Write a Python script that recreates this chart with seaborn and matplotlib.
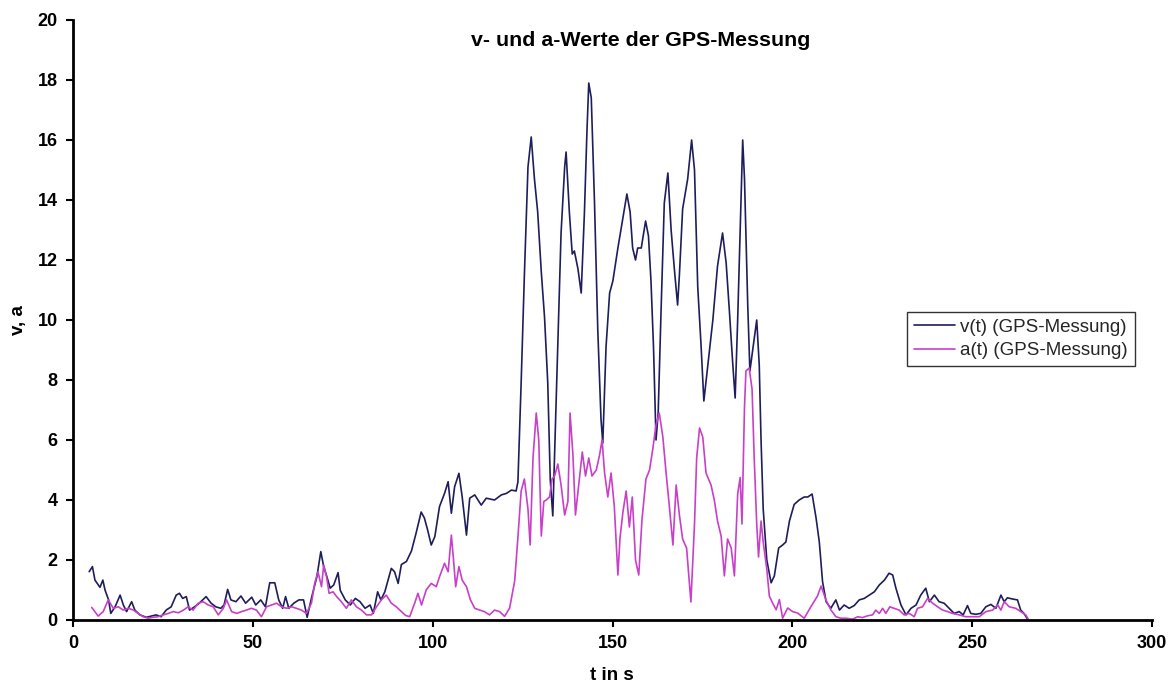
import numpy as np
import pandas as pd
import matplotlib
matplotlib.use("Agg")
import matplotlib.pyplot as plt
import seaborn as sns

# ---- data ----
t_v = [4.5, 5.4, 6.1, 7.5, 8.3, 8.9, 9.9, 10.5, 11.7, 13.1, 14.0, 14.9, 16.3, 17.2, 18.6, 20.4,
       21.8, 23.1, 24.5, 25.9, 27.3, 28.7, 29.6, 30.5, 31.5, 32.4, 33.8, 35.1, 37.0, 38.4, 39.7,
       41.1, 42.0, 43.0, 43.9, 45.3, 46.7, 48.0, 49.7, 50.8, 52.2, 53.5, 54.7, 56.1, 57.2, 58.3,
       59.1, 60.0, 61.4, 62.8, 64.1, 65.1, 66.4, 67.8, 68.9, 69.7, 70.6, 71.5, 72.5, 73.7, 74.3,
       75.7, 77.1, 78.5, 79.8, 81.2, 82.6, 83.5, 84.7, 85.6, 86.7, 87.6, 88.5, 89.4, 90.4, 91.3,
       92.7, 94.1, 95.4, 96.8, 97.7, 98.6, 99.6, 100.6, 101.9, 103.3, 104.3, 105.2, 106.1, 107.3,
       108.2, 109.4, 110.3, 111.7, 113.5, 114.9, 117.2, 119.1, 120.5, 121.9, 123.2, 123.7, 124.6,
       125.5, 126.5, 127.4, 128.3, 129.2, 130.2, 131.1, 132.0, 132.7, 133.4, 133.9, 134.8, 135.7,
       136.7, 137.1, 138.0, 138.8, 139.4, 140.4, 141.3, 142.2, 142.9, 143.4, 144.1, 145.0, 145.9,
       146.8, 147.3, 148.2, 149.2, 150.1, 151.5, 152.9, 154.0, 154.9, 155.6, 156.4, 157.0, 158.0,
       159.2, 160.0, 160.7, 161.4, 162.1, 162.7, 163.5, 164.4, 165.4, 166.3, 167.2, 168.1, 168.6,
       169.5, 170.9, 172.0, 172.8, 173.7, 174.6, 175.4, 176.5, 177.9, 179.2, 180.6, 181.6, 182.5,
       183.4, 184.1, 184.8, 185.7, 186.2, 186.7, 187.6, 188.2, 189.2, 190.1, 190.8, 191.3, 191.9,
       192.9, 194.1, 195.0, 196.2, 197.3, 198.2, 199.2, 200.5, 201.9, 203.3, 204.3, 205.5, 206.6,
       207.5, 208.4, 209.4, 210.7, 212.1, 213.1, 214.4, 215.8, 217.2, 218.6, 220.0, 221.4, 222.8,
       224.2, 225.6, 226.9, 227.9, 228.8, 230.2, 231.6, 233.0, 234.4, 235.7, 237.1, 238.1, 239.5,
       240.8, 242.2, 243.6, 245.0, 246.4, 247.5, 248.7, 249.6, 251.0, 252.4, 253.8, 255.2, 256.6,
       258.0, 258.9, 259.8, 261.2, 262.6, 263.5, 264.4, 265.4]
v_vals = [1.61, 1.78, 1.33, 1.09, 1.33, 1.0, 0.67, 0.22, 0.44, 0.83, 0.5, 0.28, 0.61, 0.33, 0.17, 0.09,
          0.13, 0.17, 0.11, 0.33, 0.44, 0.83, 0.89, 0.72, 0.78, 0.33, 0.44, 0.56, 0.78, 0.56, 0.44,
          0.39, 0.5, 1.02, 0.67, 0.61, 0.8, 0.56, 0.76, 0.5, 0.67, 0.44, 1.24, 1.24, 0.67, 0.39,
          0.78, 0.39, 0.56, 0.67, 0.67, 0.09, 0.78, 1.44, 2.28, 1.78, 1.44, 1.06, 1.17, 1.58, 0.99,
          0.67, 0.5, 0.72, 0.61, 0.39, 0.5, 0.22, 0.94, 0.67, 0.94, 1.33, 1.72, 1.61, 1.22, 1.85,
          1.95, 2.3, 2.9, 3.6, 3.4, 3.0, 2.5, 2.78, 3.78, 4.22, 4.61, 3.56, 4.44, 4.89,
          4.11, 2.83, 4.06, 4.17, 3.83, 4.06, 4.0, 4.17, 4.22, 4.33, 4.3, 4.6, 7.9,
          11.5, 15.1, 16.1, 14.7, 13.6, 11.6, 10.1, 7.9, 4.67, 3.47, 5.5, 9.1, 12.9,
          15.1, 15.6, 13.6, 12.2, 12.3, 11.7, 10.9, 13.6, 16.3, 17.9, 17.4, 13.9, 9.7,
          6.7, 5.9, 9.1, 10.9, 11.3, 12.4, 13.4, 14.2, 13.6, 12.4, 12.0, 12.4, 12.4,
          13.3, 12.8, 11.3, 9.1, 6.0, 6.9, 10.3, 13.9, 14.9, 13.0, 11.7, 10.5, 11.5,
          13.7, 14.7, 16.0, 15.0, 11.1, 9.2, 7.3, 8.5, 10.0, 11.8, 12.9, 11.9, 10.3,
          8.6, 7.4, 10.0, 13.9, 16.0, 14.7, 10.5, 8.3, 9.2, 10.0, 8.5, 6.0, 3.7,
          2.0, 1.24, 1.47, 2.4, 2.5, 2.6, 3.3, 3.85, 4.0, 4.1, 4.1, 4.2, 3.4,
          2.6, 1.28, 0.61, 0.39, 0.67, 0.33, 0.5, 0.39, 0.48, 0.67, 0.72, 0.83, 0.94,
          1.17, 1.33, 1.56, 1.5, 1.06, 0.5, 0.17, 0.39, 0.5, 0.83, 1.06, 0.61, 0.83,
          0.61, 0.56, 0.39, 0.22, 0.28, 0.17, 0.48, 0.22, 0.19, 0.22, 0.44, 0.52, 0.39,
          0.83, 0.61, 0.74, 0.7, 0.67, 0.33, 0.22, 0.03]

t_a = [5.2, 7.0, 8.4, 9.8, 11.2, 12.6, 14.0, 15.4, 16.8, 18.1, 19.5, 20.9, 22.3, 23.7, 25.1, 26.5,
       27.9, 29.3, 30.7, 32.0, 33.4, 34.8, 36.2, 37.6, 39.0, 40.4, 41.8, 42.7, 44.1, 45.5, 46.9,
       48.2, 49.6, 51.0, 52.4, 53.8, 55.2, 56.6, 58.0, 59.4, 60.8, 62.1, 63.5, 64.9, 66.3, 67.2,
       68.1, 69.1, 69.7, 70.5, 71.2, 72.3, 73.3, 74.6, 76.0, 77.4, 78.8, 80.2, 81.6, 83.0, 84.4,
       85.7, 87.1, 88.5, 89.9, 91.3, 92.5, 93.6, 95.0, 95.9, 96.9, 98.2, 99.6, 101.0, 101.9, 103.3,
       104.3, 105.2, 105.8, 106.4, 107.3, 108.2, 109.4, 110.5, 111.7, 113.1, 114.4, 115.8, 117.2,
       118.6, 120.0, 121.4, 122.8, 123.7, 124.6, 125.5, 126.5, 127.1, 127.9, 128.8, 129.5, 130.2,
       130.9, 131.6, 132.5, 133.2, 133.9, 134.8, 135.7, 136.7, 137.6, 138.2, 139.0, 139.7, 140.6,
       141.6, 142.5, 143.4, 144.3, 145.5, 146.4, 147.1, 147.8, 148.7, 149.6, 150.5, 151.5, 152.1,
       152.9, 153.8, 154.7, 155.5, 156.4, 157.3, 158.2, 159.3, 160.3, 161.2, 162.1, 163.0, 164.0,
       164.9, 165.8, 166.8, 167.7, 168.6, 169.5, 170.6, 171.8, 172.8, 173.4, 174.2, 175.1, 176.0,
       177.4, 178.3, 179.2, 180.2, 181.1, 182.0, 183.0, 183.9, 184.8, 185.5, 186.0, 186.7, 187.1,
       188.0, 188.8, 189.4, 190.1, 190.6, 191.3, 191.9, 192.9, 193.6, 194.5, 195.5, 196.4, 197.3,
       198.7, 200.1, 201.5, 203.3, 205.2, 207.0, 208.0, 209.3, 210.7, 212.1, 213.5, 214.9, 216.8,
       218.2, 219.5, 220.9, 222.3, 223.2, 224.2, 225.1, 226.0, 227.1, 228.3, 229.7, 231.1, 232.5,
       233.9, 234.8, 236.2, 237.6, 239.0, 240.4, 241.8, 243.2, 244.5, 246.4, 248.2, 250.1, 252.0,
       253.8, 255.7, 257.1, 258.0, 258.9, 260.3, 262.1, 263.5, 264.9, 265.6]
a_vals = [0.42, 0.13, 0.28, 0.67, 0.39, 0.44, 0.33, 0.39, 0.33, 0.22, 0.11, 0.06, 0.09, 0.11, 0.17, 0.22,
          0.28, 0.24, 0.33, 0.44, 0.33, 0.56, 0.61, 0.5, 0.44, 0.17, 0.39, 0.67, 0.28, 0.22, 0.28,
          0.33, 0.39, 0.33, 0.11, 0.44, 0.5, 0.56, 0.44, 0.39, 0.44, 0.39, 0.33, 0.22, 0.56, 1.22,
          1.61, 1.11, 1.83, 1.44, 0.89, 0.94, 0.78, 0.61, 0.39, 0.67, 0.44, 0.33, 0.17, 0.17, 0.44,
          0.67, 0.83, 0.56, 0.44, 0.28, 0.15, 0.11, 0.56, 0.89, 0.5, 1.0, 1.22, 1.11, 1.44, 1.89,
          1.61, 2.83, 2.0, 1.11, 1.78, 1.33, 1.11, 0.67, 0.39, 0.33, 0.28, 0.17, 0.33,
          0.28, 0.12, 0.4, 1.3, 2.75, 4.3, 4.7, 3.7, 2.5, 5.4, 6.9, 6.0, 2.8,
          3.95, 4.0, 4.1, 4.7, 4.8, 5.2, 4.5, 3.5, 3.95, 6.9, 5.5, 3.5, 4.5,
          5.6, 4.8, 5.4, 4.8, 5.0, 5.5, 6.0, 4.9, 4.1, 4.9, 3.8, 1.5, 2.75,
          3.6, 4.3, 3.1, 4.1, 2.0, 1.5, 3.35, 4.7, 5.0, 5.7, 6.5, 6.9, 6.1,
          4.9, 3.8, 2.5, 4.5, 3.5, 2.7, 2.4, 0.6, 3.2, 5.4, 6.4, 6.1, 4.9,
          4.5, 4.0, 3.3, 2.8, 1.47, 2.7, 2.4, 1.47, 4.2, 4.75, 3.2, 7.1, 8.3,
          8.4, 7.7, 5.4, 3.2, 2.1, 3.3, 2.6, 1.7, 0.8, 0.57, 0.34, 0.68, 0.06,
          0.4, 0.28, 0.23, 0.06, 0.45, 0.8, 1.13, 0.68, 0.34, 0.11, 0.06, 0.06, 0.03,
          0.11, 0.08, 0.14, 0.17, 0.33, 0.22, 0.39, 0.22, 0.44, 0.39, 0.33, 0.17, 0.22,
          0.11, 0.39, 0.44, 0.72, 0.56, 0.44, 0.33, 0.28, 0.22, 0.17, 0.11, 0.11, 0.11,
          0.28, 0.33, 0.5, 0.33, 0.61, 0.44, 0.39, 0.28, 0.17, 0.03]

x_ticks = [0, 50, 100, 150, 200, 250, 300]
y_ticks = [0, 2, 4, 6, 8, 10, 12, 14, 16, 18, 20]
title = "v- und a-Werte der GPS-Messung"
label_v = "v(t) (GPS-Messung)"
label_a = "a(t) (GPS-Messung)"

# ---- styling ----
sns.set_theme(style="white")
plt.rcParams["font.family"] = ["Liberation Sans", "DejaVu Sans"]

fig = plt.figure(figsize=(11.75, 6.84), dpi=100)
ax = fig.add_axes([73 / 1175, 1 - 620 / 684, (1152 - 73) / 1175, 600 / 684])
ax.set_facecolor("white")

df_v = pd.DataFrame({"t": t_v, "val": v_vals})
df_a = pd.DataFrame({"t": t_a, "val": a_vals})
sns.lineplot(data=df_v, x="t", y="val", ax=ax, color="#1e1e5c", lw=1.2, label=label_v, sort=True)
sns.lineplot(data=df_a, x="t", y="val", ax=ax, color="#c840c8", lw=1.2, label=label_a, sort=True)

ax.set_xlim(0, 300)
ax.set_ylim(0, 20)
ax.set_xticks(x_ticks)
ax.set_yticks(y_ticks)
ax.set_xticklabels([str(x) for x in x_ticks], fontsize=13, fontweight="bold")
ax.set_yticklabels([str(y) for y in y_ticks], fontsize=13, fontweight="bold")
ax.tick_params(axis="both", direction="out", length=5, width=1.5, color="black",
               labelcolor="black", pad=6, bottom=True, left=True)
for s in ["top", "right"]:
    ax.spines[s].set_visible(False)
for s in ["left", "bottom"]:
    ax.spines[s].set_color("black")
    ax.spines[s].set_linewidth(2)
ax.grid(False)

ax.set_xlabel("t in s", fontsize=13.5, fontweight="bold", color="black")
ax.set_ylabel("v, a", fontsize=13.5, fontweight="bold", color="black")
ax.xaxis.set_label_coords((612 - 73) / 1079, -(675 - 620) / 600)
ax.yaxis.set_label_coords(-(73 - 18) / 1079, 0.5)
ax.xaxis.label.set_va("center")
ax.yaxis.label.set_va("center")

fig.text(641 / 1175, 1 - 40 / 684, title, ha="center", va="center",
         fontsize=15.4, fontweight="bold", color="black")

leg = ax.legend(loc="upper left", bbox_to_anchor=(907 / 1175, 1 - 312 / 684),
                bbox_transform=fig.transFigure, frameon=True, fancybox=False,
                fontsize=13.5, handlelength=2.2, handletextpad=0.3, borderpad=0.35,
                labelspacing=0.35, borderaxespad=0)
leg.get_frame().set_edgecolor("black")
leg.get_frame().set_linewidth(1.0)
for h in leg.get_lines():
    h.set_linewidth(1.2)

fig.savefig("out.png", dpi=100, facecolor="white")
